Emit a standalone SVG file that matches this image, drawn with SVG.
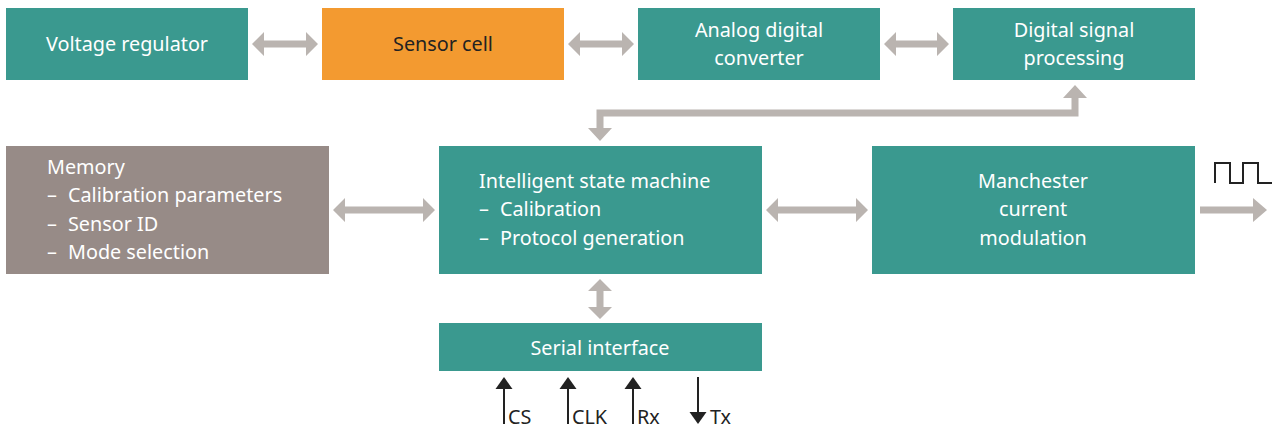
<svg xmlns="http://www.w3.org/2000/svg" width="1274" height="430" viewBox="0 0 1274 430">
<style>
.teal{fill:#3a998f}
.org{fill:#f39a30}
.gry{fill:#978b87}
.t{font-family:"Noto Sans","Open Sans",sans-serif;font-size:19.8px;fill:#ffffff}
.tc{text-anchor:middle}
.dk{font-family:"Noto Sans","Open Sans",sans-serif;font-size:19.8px;fill:#222222}
.arr{fill:#bab4b0}
.blk{stroke:#222222;stroke-width:2;fill:none}
.bh{fill:#222222}
</style>
<rect width="1274" height="430" fill="#ffffff"/>
<g id="voltage-regulator"><rect class="teal" x="6" y="8" width="242" height="72"/><text class="t tc" x="127" y="51">Voltage regulator</text></g>
<g id="sensor-cell"><rect class="org" x="322" y="8" width="242" height="72"/><text class="dk tc" x="443" y="51">Sensor cell</text></g>
<g id="adc"><rect class="teal" x="638" y="8" width="242" height="72"/><text class="t tc" x="759" y="37">Analog digital</text><text class="t tc" x="759" y="65">converter</text></g>
<g id="dsp"><rect class="teal" x="953" y="8" width="242" height="72"/><text class="t tc" x="1074" y="37">Digital signal</text><text class="t tc" x="1074" y="65">processing</text></g>
<g id="memory"><rect class="gry" x="6" y="146" width="323" height="128"/><text class="t" x="47" y="174">Memory</text>
<text class="t" x="47" y="202">–<tspan x="68">Calibration parameters</tspan></text>
<text class="t" x="47" y="231">–<tspan x="68">Sensor ID</tspan></text>
<text class="t" x="47" y="259">–<tspan x="68">Mode selection</tspan></text></g>
<g id="state-machine"><rect class="teal" x="439" y="146" width="323" height="128"/><text class="t" x="479" y="188">Intelligent state machine</text>
<text class="t" x="479" y="216">–<tspan x="500">Calibration</tspan></text>
<text class="t" x="479" y="245">–<tspan x="500">Protocol generation</tspan></text></g>
<g id="manchester"><rect class="teal" x="872" y="146" width="323" height="128"/><text class="t tc" x="1033" y="188">Manchester</text><text class="t tc" x="1033" y="216">current</text><text class="t tc" x="1033" y="245">modulation</text></g>
<g id="serial-interface"><rect class="teal" x="439" y="323" width="323" height="48"/><text class="t tc" x="600" y="355">Serial interface</text></g>
<g id="output-signal"><path class="blk" d="M1215,183 V163 H1230 V183 H1243 V163 H1258 V183 H1272"/></g>
<g id="connectors">
<path class="arr" d="M252,44 L264,32 L264,40.5 L306,40.5 L306,32 L318,44 L306,56 L306,47.5 L264,47.5 L264,56 Z"/>
<path class="arr" d="M568,44 L580,32 L580,40.5 L622,40.5 L622,32 L634,44 L622,56 L622,47.5 L580,47.5 L580,56 Z"/>
<path class="arr" d="M884,44 L896,32 L896,40.5 L937,40.5 L937,32 L949,44 L937,56 L937,47.5 L896,47.5 L896,56 Z"/>
<path class="arr" d="M333,210 L345,198 L345,206.5 L423,206.5 L423,198 L435,210 L423,222 L423,213.5 L345,213.5 L345,222 Z"/>
<path class="arr" d="M766,210 L778,198 L778,206.5 L856,206.5 L856,198 L868,210 L856,222 L856,213.5 L778,213.5 L778,222 Z"/>
<path class="arr" d="M600,141 L588,128 L596.5,128 L596.5,109.5 L1071.5,109.5 L1071.5,98 L1063,98 L1075,85 L1087,98 L1078.5,98 L1078.5,116.5 L603.5,116.5 L603.5,128 L612,128 Z"/>
<path class="arr" d="M600,279 L612,291 L603.5,291 L603.5,307 L612,307 L600,319 L588,307 L596.5,307 L596.5,291 L588,291 Z"/>
<path class="arr" d="M1200,206.5 H1253 V198 L1267,210 L1253,222 V213.5 H1200 Z"/>
<line class="blk" x1="504" y1="386" x2="504" y2="424"/><path class="bh" d="M504,377 L512.5,389 L495.5,389 Z"/>
<line class="blk" x1="568" y1="386" x2="568" y2="424"/><path class="bh" d="M568,377 L576.5,389 L559.5,389 Z"/>
<line class="blk" x1="633" y1="386" x2="633" y2="424"/><path class="bh" d="M633,377 L641.5,389 L624.5,389 Z"/>
<line class="blk" x1="698" y1="377" x2="698" y2="414"/><path class="bh" d="M698,424 L706.5,412 L689.5,412 Z"/>
</g>
<text class="dk" x="508" y="424">CS</text>
<text class="dk" x="572" y="424">CLK</text>
<text class="dk" x="637" y="424">Rx</text>
<text class="dk" x="710" y="424">Tx</text>
</svg>
